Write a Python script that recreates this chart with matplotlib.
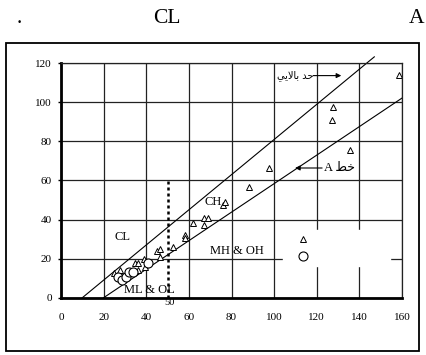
import numpy as np
import matplotlib.pyplot as plt
from matplotlib.lines import Line2D
from matplotlib.patches import Rectangle

plt.rcParams['font.family'] = ['Liberation Serif', 'DejaVu Sans']

# triangle samples (liquid limit, plasticity index)
tri_ll = [25, 27.8, 34.8, 36, 36, 39, 39.3, 45.2, 46.6, 46.6, 52.7, 58.2, 58.2,
          62.1, 67.3, 68.8, 66.9, 76.2, 77, 88.2, 97.5, 127, 127.8, 135.6, 158.6]
tri_pi = [12.5, 14, 18, 18, 14, 20, 15.8, 23.8, 24.7, 21, 25.8, 32, 30.6,
          38.1, 40.7, 40.7, 37, 47.5, 49.2, 56.6, 66.2, 91.1, 97.6, 75.4, 113.8]

# circle samples
circ_ll = [26.9, 28.5, 30.5, 32, 33.8, 40.7]
circ_pi = [10.5, 9.2, 10.5, 13, 13, 17.8]

# U-line and A-line (x start, slope, x end)
U_LINE = (10, 0.9, 147)
A_LINE = (20, 0.73, 160)
LL_SPLIT = 50

AR_UPPER = '\uFEF2\uFEF3\uFEFB\uFE8E\uFE91 \uFEAA\uFEA3'   # حد بالايي
AR_ALINE = 'A \uFEC2\uFEA7'                                  # خط A

fig = plt.figure(figsize=(4.27, 3.55), dpi=100)
ax = fig.add_axes([0.1429, 0.1614, 0.7986, 0.6603])

ax.set_xlim(0, 160)
ax.set_ylim(0, 120)
ax.set_xticks(np.arange(0, 161, 20))
ax.set_yticks(np.arange(0, 121, 20))
ax.grid(True, color='#222222', linewidth=0.9)
ax.set_axisbelow(True)

for side in ['left', 'bottom']:
    ax.spines[side].set_linewidth(2)
for side in ['top', 'right']:
    ax.spines[side].set_linewidth(0.9)
    ax.spines[side].set_color('#222222')

ax.tick_params(axis='x', length=0, pad=11, labelsize=8)
ax.tick_params(axis='y', length=2.2, width=1, pad=4.5, labelsize=8)

x0, k, x1 = U_LINE
ax.plot([x0, x1], [0, k * (x1 - x0)], color='black', lw=0.8, clip_on=False)
x0, k, x1 = A_LINE
ax.plot([x0, x1], [0, k * (x1 - x0)], color='black', lw=0.8)

ax.plot([LL_SPLIT, LL_SPLIT], [0, 60], color='black', lw=1.8,
        linestyle=(0, (1.2, 1.2)))

ax.plot(tri_ll, tri_pi, linestyle='none', marker='^', markersize=3.8,
        markerfacecolor='white', markeredgecolor='black', markeredgewidth=0.7)
ax.plot(circ_ll, circ_pi, linestyle='none', marker='o', markersize=6.5,
        markerfacecolor='white', markeredgecolor='black', markeredgewidth=0.8)

handles = [Line2D([], [], linestyle='none', marker='^', markersize=3.8,
                  markerfacecolor='white', markeredgecolor='black', markeredgewidth=0.7),
           Line2D([], [], linestyle='none', marker='o', markersize=6.5,
                  markerfacecolor='white', markeredgecolor='black', markeredgewidth=0.8)]
leg = ax.legend(handles, ['', ''], loc='upper left',
                bbox_to_anchor=(0.651, 0.288), fontsize=8, frameon=True,
                fancybox=False, framealpha=1, edgecolor='white',
                borderpad=0.4, handlelength=2.76, handletextpad=6.1,
                labelspacing=0.7, borderaxespad=0)

ax.text(29, 31, 'CL', fontsize=9, ha='center', va='center')
ax.text(71.5, 49, 'CH', fontsize=9, ha='center', va='center')
ax.text(82.3, 24, 'MH & OH', fontsize=9, ha='center', va='center')
ax.text(41.6, 4, 'ML & OL', fontsize=9, ha='center', va='center')
ax.text(50.7, -2.6, '50', fontsize=7.5, ha='center', va='center')

ax.annotate('', xy=(131.5, 113.7), xytext=(118.3, 113.7),
            arrowprops=dict(arrowstyle='-|>', color='black', lw=0.8,
                            mutation_scale=7, shrinkA=0, shrinkB=0))
ax.text(118.3, 113.7, AR_UPPER, family=['DejaVu Sans'], fontsize=7,
        ha='right', va='center')

ax.annotate('', xy=(109.8, 66.4), xytext=(122.5, 66.4),
            arrowprops=dict(arrowstyle='-|>', color='black', lw=0.8,
                            mutation_scale=7, shrinkA=0, shrinkB=0))
ax.text(123.5, 66.4, AR_ALINE, family=['Liberation Serif', 'DejaVu Sans'],
        fontsize=9, ha='left', va='center')

fig.patches.append(Rectangle((6 / 427, 1 - 351 / 355), 413 / 427, 308 / 355,
                             transform=fig.transFigure, fill=False,
                             edgecolor='black', linewidth=1.3))

fig.text(19 / 427, 0.934, '.', fontsize=15.5, ha='center', va='baseline')
fig.text(167 / 427, 0.934, 'CL', fontsize=15.5, ha='center', va='baseline')
fig.text(416.5 / 427, 0.934, 'A', fontsize=15.5, ha='center', va='baseline')

fig.savefig('out.png', dpi=100)
